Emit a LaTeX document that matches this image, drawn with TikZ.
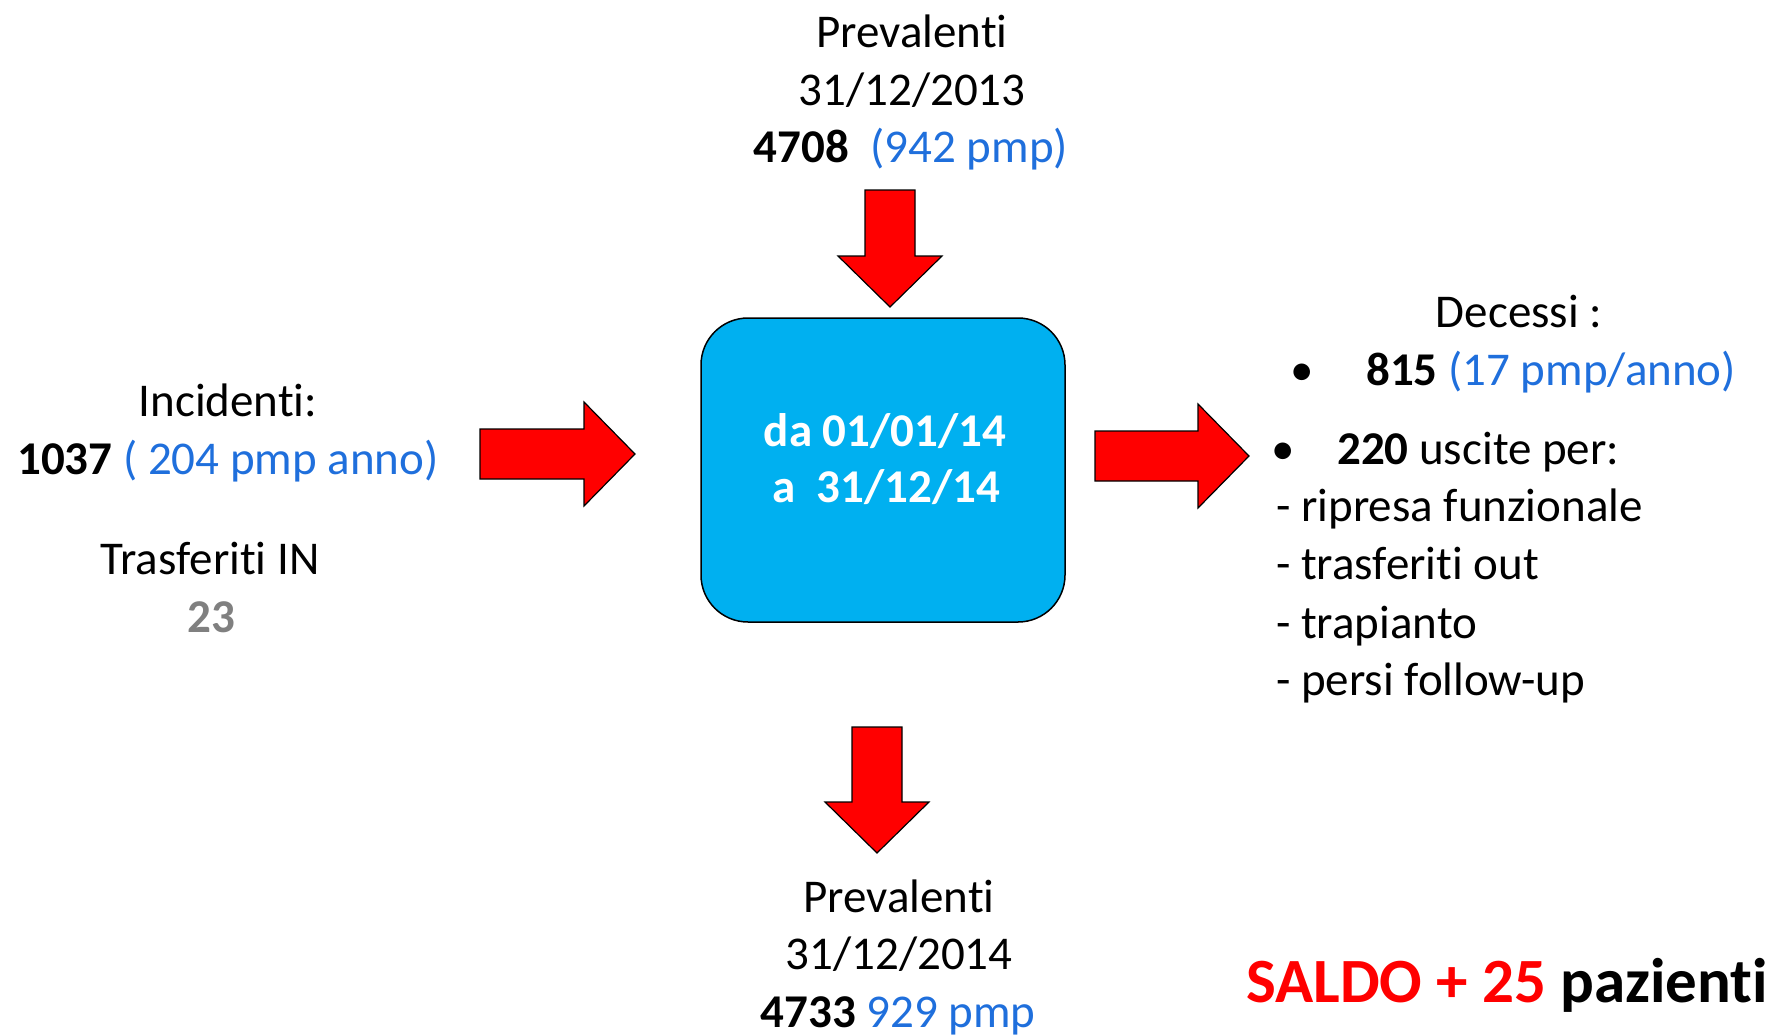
\documentclass[tikz,border=0pt]{standalone}
\usepackage{fontspec}
\setmainfont{Carlito}[Ligatures={NoCommon,NoRare,NoContextual}]
\tikzset{>=latex}
\definecolor{boxcol}{HTML}{00B0F0}
\definecolor{pmpblue}{RGB}{31,111,220}
\colorlet{arrowred}{red}
\colorlet{ingray}{black!50}
\tikzstyle{arrowfill}=[draw=black,line width=1.2pt,fill=arrowred,line join=miter]
\tikzstyle{txt}=[inner sep=0pt,anchor=base,font=\fontsize{47}{58}\selectfont]
\tikzstyle{ltxt}=[txt,anchor=base west]
\tikzstyle{periodbox}=[draw=black,line width=1.5pt,fill=boxcol,rounded corners=47pt,
  minimum width=364pt,minimum height=304pt,inner sep=0pt]
\tikzset{
  pics/bigarrow/.style={code={
    \draw[arrowfill] (0,0) -- (-\HL,\HW) -- (-\HL,\SW) -- (-#1,\SW) -- (-#1,-\SW)
      -- (-\HL,-\SW) -- (-\HL,-\HW) -- cycle;
  }}
}

\begin{document}
\begin{tikzpicture}[x=1pt,y=-1pt]
  \def\SW{25}  % half shaft width
  \def\HW{52}  % half head width
  \def\HL{51}  % head length
  \useasboundingbox (0,0) rectangle (1777,1034);

  % CENTRAL BOX
  \node[periodbox] (period) at (883,470) {};
  \node[txt,text=white] (from) at (885,446) {\bfseries da 01/01/14};
  \node[txt,text=white] (to)   at (886,502) {\bfseries a\ \ 31/12/14};

  % ARROWS
  \pic[rotate=-90] at (890,307) {bigarrow=117};
  \pic[rotate=-90] at (877,853) {bigarrow=126};
  \pic at (635,454) {bigarrow=155};
  \pic at (1249,456) {bigarrow=154};

  % PREVALENTI 2013
  \node[txt] (prev13a) at (912,47)  {Prevalenti};
  \node[txt] (prev13b) at (912,105) {31/12/2013};
  \node[txt] (prev13c) at (911,162) {\textbf{4708}\ \ \textcolor{pmpblue}{(942 pmp)}};

  % INCIDENTI
  \node[txt] (inc1)  at (228,416) {Incidenti:};
  \node[txt] (inc2)  at (228,474) {\textbf{1037} \textcolor{pmpblue}{( 204 pmp anno)}};
  \node[txt] (trin1) at (210,574) {Trasferiti IN};
  \node[txt,text=ingray] (trin2) at (211,632) {\bfseries 23};

  % USCITE
  \node[txt]  (dec)   at (1519,327) {Decessi :};
  \node[txt]  (bul1)  at (1302,385) {\textbullet};
  \node[ltxt] (dec1)  at (1366,385) {\textbf{815} \textcolor{pmpblue}{(17 pmp/anno)}};
  \node[txt]  (bul2)  at (1283,464) {\textbullet};
  \node[ltxt] (usc)   at (1337,464) {\textbf{220} uscite per:};
  \node[ltxt] (usc1)  at (1276,521) {- ripresa funzionale};
  \node[ltxt] (usc2)  at (1276,579) {- trasferiti out};
  \node[ltxt] (usc3)  at (1276,638) {- trapianto};
  \node[ltxt] (usc4)  at (1276,695) {- persi follow-up};

  % PREVALENTI 2014
  \node[txt] (prev14a) at (899,912)  {Prevalenti};
  \node[txt] (prev14b) at (899,969)  {31/12/2014};
  \node[txt] (prev14c) at (898,1027) {\textbf{4733} \textcolor{pmpblue}{929 pmp}};

  % SALDO
  \node[ltxt,font=\fontsize{63}{76}\selectfont\bfseries] (saldo) at (1246,1002)
    {\textcolor{red}{SALDO + 25} pazienti};
\end{tikzpicture}
\end{document}
